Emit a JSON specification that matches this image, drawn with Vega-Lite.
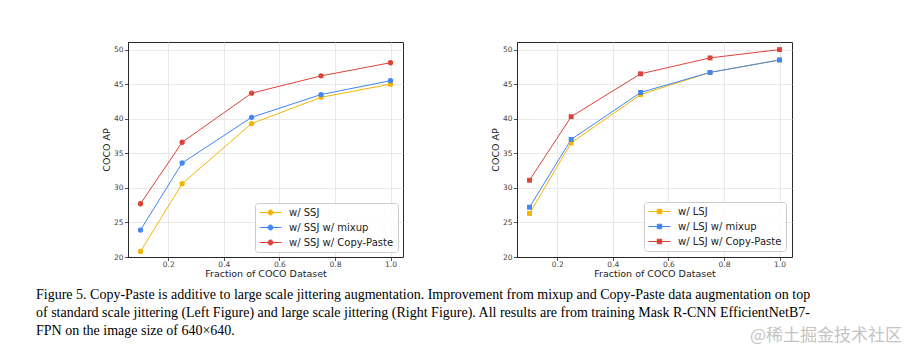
{
  "$schema": "https://vega.github.io/schema/vega-lite/v6.json",
  "background": "white",
  "padding": {"left": 36, "top": 41, "right": 6, "bottom": 4},
  "resolve": {"scale": {"color": "independent", "x": "independent", "y": "independent"}, "legend": {"color": "independent"}},
  "config": {
    "view": {"stroke": "#262626", "strokeWidth": 1},
    "axis": {
      "labelFont": "DejaVu Sans", "labelFontSize": 7.5, "labelColor": "#444444",
      "titleFont": "DejaVu Sans", "titleFontSize": 9.5, "titleFontWeight": "normal", "titleColor": "#222222",
      "domainColor": "#262626", "tickColor": "#262626", "tickSize": 3.5, "tickWidth": 0.8,
      "gridColor": "#e3e3e3", "gridWidth": 0.8, "labelPadding": 1.5, "titlePadding": 2
    },
    "axisX": {"labelPadding": 0, "titlePadding": 0},
    "legend": {
      "orient": "bottom-right", "offset": 5, "padding": 4, "rowPadding": 4,
      "fillColor": "rgba(255,255,255,0.85)", "strokeColor": "#cccccc", "cornerRadius": 3,
      "labelFont": "DejaVu Sans", "labelFontSize": 10, "labelColor": "#222222",
      "symbolSize": 100, "symbolStrokeWidth": 1, "symbolOffset": 6, "labelOffset": 13
    }
  },
  "vconcat": [
    {
      "spacing": 0,
      "resolve": {"scale": {"color": "independent", "x": "independent", "y": "independent"}, "legend": {"color": "independent"}},
      "hconcat": [
        {
          "width": 64, "height": 215,
          "view": {"stroke": null},
          "data": {"values": [{}]},
          "mark": {"type": "text", "text": ""},
          "encoding": {}
        },
        {
          "spacing": 85,
          "resolve": {"scale": {"color": "independent", "x": "independent", "y": "independent"}, "legend": {"color": "independent"}},
          "hconcat": [
            {
              "width": 275, "height": 215,
              "data": {"values": [
                {"fraction": 0.1, "ap": 20.8, "method": "w/ SSJ"},
                {"fraction": 0.25, "ap": 30.6, "method": "w/ SSJ"},
                {"fraction": 0.5, "ap": 39.3, "method": "w/ SSJ"},
                {"fraction": 0.75, "ap": 43.1, "method": "w/ SSJ"},
                {"fraction": 1.0, "ap": 45.0, "method": "w/ SSJ"},
                {"fraction": 0.1, "ap": 23.9, "method": "w/ SSJ w/ mixup"},
                {"fraction": 0.25, "ap": 33.6, "method": "w/ SSJ w/ mixup"},
                {"fraction": 0.5, "ap": 40.2, "method": "w/ SSJ w/ mixup"},
                {"fraction": 0.75, "ap": 43.5, "method": "w/ SSJ w/ mixup"},
                {"fraction": 1.0, "ap": 45.5, "method": "w/ SSJ w/ mixup"},
                {"fraction": 0.1, "ap": 27.7, "method": "w/ SSJ w/ Copy-Paste"},
                {"fraction": 0.25, "ap": 36.6, "method": "w/ SSJ w/ Copy-Paste"},
                {"fraction": 0.5, "ap": 43.7, "method": "w/ SSJ w/ Copy-Paste"},
                {"fraction": 0.75, "ap": 46.2, "method": "w/ SSJ w/ Copy-Paste"},
                {"fraction": 1.0, "ap": 48.1, "method": "w/ SSJ w/ Copy-Paste"}
              ]},
              "encoding": {
                "x": {"field": "fraction", "type": "quantitative",
                  "scale": {"domain": [0.055, 1.045], "nice": false, "zero": false},
                  "axis": {"values": [0.2, 0.4, 0.6, 0.8, 1.0], "format": ".1f", "title": "Fraction of COCO Dataset"}},
                "y": {"field": "ap", "type": "quantitative",
                  "scale": {"domain": [20, 51.1], "nice": false, "zero": false},
                  "axis": {"values": [20, 25, 30, 35, 40, 45, 50], "format": "d", "title": "COCO AP"}},
                "color": {"field": "method", "type": "nominal",
                  "scale": {"domain": ["w/ SSJ", "w/ SSJ w/ mixup", "w/ SSJ w/ Copy-Paste"], "range": ["#F4B400", "#4285F4", "#DB4437"]},
                  "legend": {"title": null, "symbolType": "M-2.2,0H2.2M-0.5,0A0.5,0.5,0,1,1,0.5,0A0.5,0.5,0,1,1,-0.5,0Z"}}
              },
              "layer": [
                {"mark": {"type": "line", "strokeWidth": 1}},
                {"mark": {"type": "point", "filled": true, "shape": "circle", "size": 28, "opacity": 1}}
              ]
            },
            {
              "width": 275, "height": 215,
              "data": {"values": [
                {"fraction": 0.1, "ap": 26.3, "method": "w/ LSJ"},
                {"fraction": 0.25, "ap": 36.5, "method": "w/ LSJ"},
                {"fraction": 0.5, "ap": 43.5, "method": "w/ LSJ"},
                {"fraction": 0.75, "ap": 46.7, "method": "w/ LSJ"},
                {"fraction": 1.0, "ap": 48.5, "method": "w/ LSJ"},
                {"fraction": 0.1, "ap": 27.2, "method": "w/ LSJ w/ mixup"},
                {"fraction": 0.25, "ap": 37.0, "method": "w/ LSJ w/ mixup"},
                {"fraction": 0.5, "ap": 43.8, "method": "w/ LSJ w/ mixup"},
                {"fraction": 0.75, "ap": 46.7, "method": "w/ LSJ w/ mixup"},
                {"fraction": 1.0, "ap": 48.5, "method": "w/ LSJ w/ mixup"},
                {"fraction": 0.1, "ap": 31.1, "method": "w/ LSJ w/ Copy-Paste"},
                {"fraction": 0.25, "ap": 40.3, "method": "w/ LSJ w/ Copy-Paste"},
                {"fraction": 0.5, "ap": 46.5, "method": "w/ LSJ w/ Copy-Paste"},
                {"fraction": 0.75, "ap": 48.8, "method": "w/ LSJ w/ Copy-Paste"},
                {"fraction": 1.0, "ap": 50.0, "method": "w/ LSJ w/ Copy-Paste"}
              ]},
              "encoding": {
                "x": {"field": "fraction", "type": "quantitative",
                  "scale": {"domain": [0.055, 1.045], "nice": false, "zero": false},
                  "axis": {"values": [0.2, 0.4, 0.6, 0.8, 1.0], "format": ".1f", "title": "Fraction of COCO Dataset"}},
                "y": {"field": "ap", "type": "quantitative",
                  "scale": {"domain": [20, 51.1], "nice": false, "zero": false},
                  "axis": {"values": [20, 25, 30, 35, 40, 45, 50], "format": "d", "title": "COCO AP"}},
                "color": {"field": "method", "type": "nominal",
                  "scale": {"domain": ["w/ LSJ", "w/ LSJ w/ mixup", "w/ LSJ w/ Copy-Paste"], "range": ["#F4B400", "#4285F4", "#DB4437"]},
                  "legend": {"title": null, "offset": 6, "symbolType": "M-2.2,0H2.2M-0.45,-0.45H0.45V0.45H-0.45Z"}}
              },
              "layer": [
                {"mark": {"type": "line", "strokeWidth": 1}},
                {"mark": {"type": "point", "filled": true, "shape": "square", "size": 24, "opacity": 1}}
              ]
            }
          ]
        }
      ]
    },
    {
      "width": 866, "height": 54,
      "view": {"stroke": null},
      "layer": [
        {
          "data": {"values": [
            {"line": 1, "text": "Figure 5. Copy-Paste is additive to large scale jittering augmentation. Improvement from mixup and Copy-Paste data augmentation on top"},
            {"line": 2, "text": "of standard scale jittering (Left Figure) and large scale jittering (Right Figure). All results are from training Mask R-CNN EfficientNetB7-"},
            {"line": 3, "text": "FPN on the image size of 640×640."}
          ]},
          "mark": {"type": "text", "align": "left", "baseline": "middle", "font": "Liberation Serif", "fontSize": 14, "color": "#000000"},
          "encoding": {
            "x": {"datum": 0, "type": "quantitative", "scale": {"domain": [0, 1]}, "axis": null},
            "y": {"field": "line", "type": "ordinal", "axis": null},
            "text": {"field": "text"}
          }
        },
        {
          "data": {"values": [{"line": 3, "text": "@稀土掘金技术社区"}]},
          "mark": {"type": "text", "align": "right", "baseline": "middle", "font": "Noto Sans CJK SC", "fontSize": 17, "color": "#c4c4c4", "dy": 5},
          "encoding": {
            "x": {"datum": 1, "type": "quantitative", "scale": {"domain": [0, 1]}, "axis": null},
            "y": {"field": "line", "type": "ordinal", "axis": null},
            "text": {"field": "text"}
          }
        }
      ]
    }
  ],
  "spacing": 8
}
